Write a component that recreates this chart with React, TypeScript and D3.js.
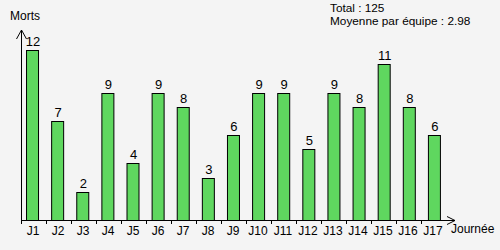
import React from "react";
import * as d3 from "d3";

const categories = ["J1","J2","J3","J4","J5","J6","J7","J8","J9","J10","J11","J12","J13","J14","J15","J16","J17"];
const values = [12,7,2,9,4,9,8,3,6,9,9,5,9,8,11,8,6];
const yLabel = "Morts";
const xLabel = "Journée";
const infoLines = ["Total : 125", "Moyenne par équipe : 2.98"];

export default function App() {
  const W = 500, H = 250;
  const x0 = 21, y0 = 220;
  const x = d3.scaleBand<string>().domain(categories).range([x0, x0 + 25 * categories.length]).paddingInner(0.52).paddingOuter(0.22);
  const xt = d3.scaleBand<string>().domain(categories).range([x0, x0 + 25 * categories.length]);
  const y = d3.scaleLinear().domain([0, 12]).range([y0, 50]);
  const font = "Liberation Sans, Arial, sans-serif";
  return (
    <svg width={W} height={H} style={{ position: "absolute", left: 0, top: 0, fontFamily: font }}>
      <rect x={0} y={0} width={W} height={H} fill="#f4f4f4" />
      {categories.map((c, i) => (
        <g key={c}>
          <rect x={x(c)!} y={Math.round(y(values[i])) + 0.5} width={12} height={y0 - Math.round(y(values[i]))} fill="#5fd75f" stroke="#000" strokeWidth={1} />
          <text x={x(c)! + 6.5} y={Math.round(y(values[i])) - 4} textAnchor="middle" fontSize={13} fill="#000">{values[i]}</text>
          <line x1={xt(c)! + 0.5} x2={xt(c)! + 0.5} y1={y0} y2={y0 + 4} stroke="#000" />
          <text x={xt(c)! + 12} y={y0 + 15} textAnchor="middle" fontSize={12} fill="#000">{c}</text>
        </g>
      ))}
      <line x1={x0 + 0.5} x2={x0 + 0.5} y1={y0 + 0.5} y2={30} stroke="#000" />
      <path d={`M${x0 - 4.5},39 L${x0 + 0.5},30 L${x0 + 5.5},39`} fill="none" stroke="#000" />
      <line x1={x0} x2={455} y1={y0 + 0.5} y2={y0 + 0.5} stroke="#000" />
      <path d={`M447,216.5 L455,220.5 L447,224.5`} fill="none" stroke="#000" />
      <text x={10} y={20} fontSize={12} fill="#000">{yLabel}</text>
      <text x={451} y={233} fontSize={12} fill="#000">{xLabel}</text>
      {infoLines.map((t, i) => (
        <text key={i} x={330} y={12 + i * 13} fontSize={11.8} fill="#000">{t}</text>
      ))}
    </svg>
  );
}
